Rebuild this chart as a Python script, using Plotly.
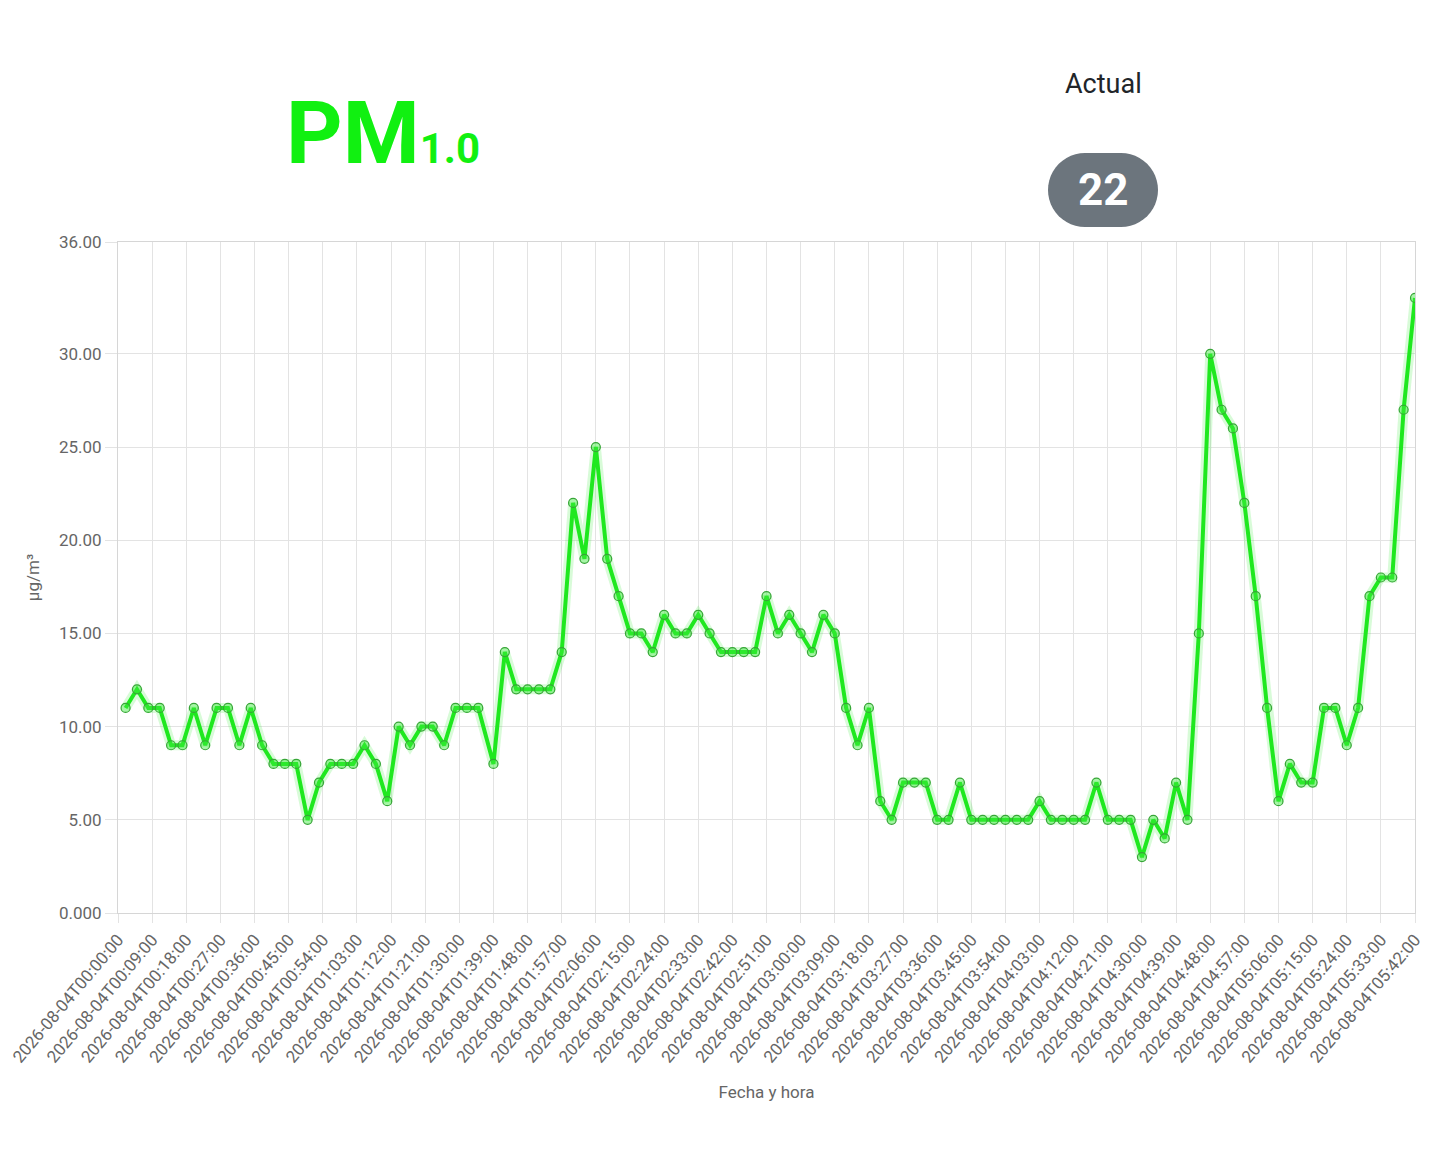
import numpy as np
import pandas as pd
import plotly.graph_objects as go

# tramo 1: lecturas cada 3 min desde 00:02 hasta 01:35
valores_a = [11, 12, 11, 11, 9, 9, 11, 9, 11, 11, 9, 11, 9, 8, 8, 8, 5, 7, 8, 8,
             8, 9, 8, 6, 10, 9, 10, 10, 9, 11, 11, 11]
# tramo 2: lecturas cada 3 min desde 01:39 hasta 05:42
valores_b = [8, 14, 12, 12, 12, 12, 14, 22, 19, 25, 19, 17, 15, 15, 14, 16, 15, 15,
             16, 15, 14, 14, 14, 14, 17, 15, 16, 15, 14, 16, 15, 11, 9, 11,
             6, 5, 7, 7, 7, 5, 5, 7, 5, 5, 5, 5, 5, 5, 6, 5, 5, 5, 5, 7, 5, 5, 5,
             3, 5, 4, 7,
             5, 15, 30, 27, 26, 22, 17, 11, 6, 8, 7, 7, 11, 11, 9, 11, 17, 18, 18,
             27, 33]

inicio_a = "2026-08-04 00:02:00"
inicio_b = "2026-08-04 01:39:00"

fechas = list(pd.date_range(inicio_a, periods=len(valores_a), freq="3min")) + \
         list(pd.date_range(inicio_b, periods=len(valores_b), freq="3min"))
valores = valores_a + valores_b

y_ticks = [0, 5, 10, 15, 20, 25, 30, 36]
y_labels = ["0.000", "5.00", "10.00", "15.00", "20.00", "25.00", "30.00", "36.00"]

actual = 22

VERDE = "#1fe81f"
GRIS_TXT = "#666666"
GRID = "#e3e3e3"

fig = go.Figure()

# brillo suave debajo de la linea
fig.add_trace(go.Scatter(x=fechas, y=valores, mode="lines",
                         line=dict(color="rgba(40,235,40,0.18)", width=10),
                         hoverinfo="skip", showlegend=False))
fig.add_trace(go.Scatter(x=fechas, y=valores, mode="lines+markers",
                         line=dict(color=VERDE, width=4),
                         marker=dict(size=9, color="rgba(60,235,60,0.45)",
                                     line=dict(color="rgb(55,165,55)", width=1.2)),
                         showlegend=False))

# la pagina deja 8px de margen en el body, se descuentan aqui
W, H = 1432, 1159
L, R, T, B = 110, 25, 234, 254
x0_pag, y0_pag = 8 + L, 8 + T
pw, ph = W - L - R, H - T - B

def px(x):
    return (x - x0_pag) / pw

def py(y):
    return (y0_pag + ph - y) / ph

fig.add_annotation(text="<b>PM<span style='font-size:42px'>1.0</span></b>",
                   xref="paper", yref="paper", x=px(284), y=py(186),
                   xanchor="left", yanchor="bottom", showarrow=False,
                   font=dict(family="Roboto", size=88, color="#11f011"))
fig.add_annotation(text="Actual", xref="paper", yref="paper",
                   x=px(1103), y=py(84), xanchor="center", yanchor="middle",
                   showarrow=False, font=dict(family="Roboto", size=27, color="#212529"))

# pastilla gris redondeada
ang = np.linspace(-np.pi / 2, np.pi / 2, 25)
rad, half = 37, 18
pts = [(half + rad * np.cos(a), rad * np.sin(a)) for a in ang] + \
      [(-half - rad * np.cos(a), -rad * np.sin(a)) for a in ang]
path = "M " + " L ".join(f"{x:.2f},{y:.2f}" for x, y in pts) + " Z"
fig.add_shape(type="path", path=path, xref="paper", yref="paper",
              xsizemode="pixel", ysizemode="pixel",
              xanchor=px(1103), yanchor=py(190),
              fillcolor="#6c757d", line=dict(width=0), layer="above")
fig.add_annotation(text=f"<b>{actual}</b>", xref="paper", yref="paper",
                   x=px(1103), y=py(190), xanchor="center", yanchor="middle",
                   showarrow=False, font=dict(family="Roboto", size=44, color="white"))

fig.update_layout(
    width=W, height=H,
    margin=dict(l=L, r=R, t=T, b=B),
    plot_bgcolor="white", paper_bgcolor="white",
    font=dict(family="Roboto", color=GRIS_TXT),
    xaxis=dict(
        type="date", automargin=False,
        range=["2026-08-04 00:00:00", "2026-08-04 05:42:00"],
        tick0="2026-08-04 00:00:00", dtick=9 * 60 * 1000,
        tickformat="%Y-%m-%dT%H:%M:%S", tickangle=-50,
        tickfont=dict(size=17, color=GRIS_TXT),
        showgrid=True, gridcolor=GRID, gridwidth=1,
        showline=True, linecolor="#d6d6d6", linewidth=1, mirror=True,
        ticks="outside", ticklen=9, tickcolor=GRID,
        title=dict(text="Fecha y hora", font=dict(size=17, color=GRIS_TXT), standoff=20),
        zeroline=False,
    ),
    yaxis=dict(
        automargin=False,
        range=[0, 36], tickvals=y_ticks, ticktext=y_labels,
        tickfont=dict(size=17, color=GRIS_TXT),
        showgrid=True, gridcolor=GRID, gridwidth=1,
        showline=True, linecolor="#d6d6d6", linewidth=1, mirror=True,
        ticks="outside", ticklen=12, tickcolor=GRID,
        title=dict(text="µg/m³", font=dict(size=17, color=GRIS_TXT), standoff=14),
        zeroline=False,
    ),
)

fig.write_html("out.html")
